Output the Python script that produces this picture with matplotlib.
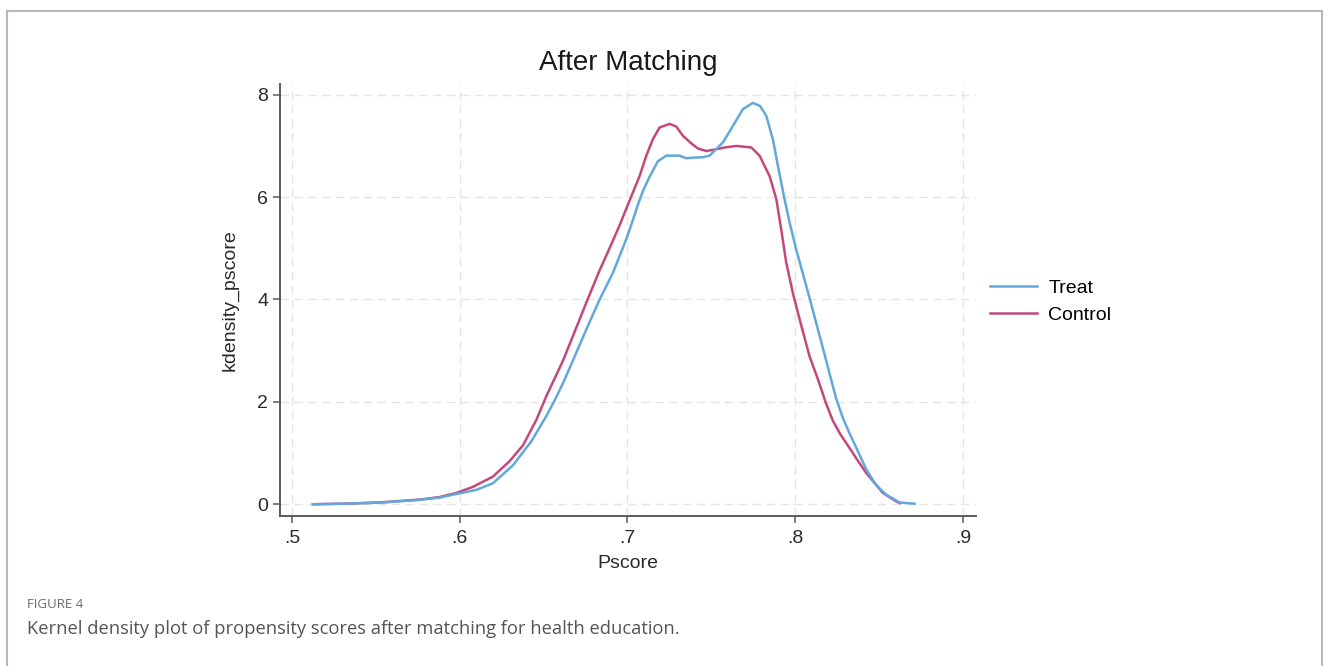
import matplotlib
matplotlib.use("Agg")
import matplotlib.pyplot as plt
from matplotlib.patches import Rectangle

# values
treat_x = [0.5125, 0.530, 0.5523, 0.5761, 0.588, 0.598, 0.6099, 0.6198, 0.6317, 0.6425,
           0.6516, 0.6566, 0.6615, 0.6655, 0.6754, 0.6834, 0.6913, 0.6993, 0.7032, 0.7062,
           0.7092, 0.7132, 0.7181, 0.7231, 0.7310, 0.7350, 0.7390, 0.7450, 0.7489, 0.7569,
           0.7628, 0.7688, 0.7747, 0.7790, 0.7827, 0.7867, 0.7900, 0.7936, 0.7970, 0.8006,
           0.8085, 0.8175, 0.8210, 0.8245, 0.8284, 0.8324, 0.8364, 0.8423, 0.8480, 0.8542,
           0.8622, 0.8711]
treat_y = [0.0, 0.01, 0.03, 0.085, 0.13, 0.20, 0.28, 0.41, 0.76, 1.22,
           1.72, 2.03, 2.36, 2.66, 3.41, 4.00, 4.52, 5.18, 5.55, 5.85,
           6.12, 6.40, 6.70, 6.81, 6.81, 6.76, 6.77, 6.78, 6.81, 7.07,
           7.39, 7.72, 7.84, 7.78, 7.59, 7.12, 6.55, 5.96, 5.45, 4.97,
           4.03, 2.92, 2.48, 2.05, 1.68, 1.38, 1.10, 0.68, 0.38, 0.186,
           0.035, 0.01]

control_x = [0.5125, 0.530, 0.5523, 0.5761, 0.588, 0.598, 0.6079, 0.6198, 0.6297, 0.6377,
             0.6457, 0.6516, 0.6615, 0.6695, 0.6762, 0.6834, 0.6893, 0.6953, 0.7002, 0.7072,
             0.7112, 0.7151, 0.7191, 0.7251, 0.7290, 0.7330, 0.7380, 0.7420, 0.7470, 0.7520,
             0.7580, 0.7648, 0.7738, 0.7787, 0.7847, 0.7887, 0.7917, 0.7946, 0.7986, 0.8026,
             0.8085, 0.8135, 0.8180, 0.8224, 0.8270, 0.8323, 0.8373, 0.8423, 0.8522, 0.8602,
             0.8625]
control_y = [0.0, 0.01, 0.035, 0.09, 0.14, 0.22, 0.34, 0.54, 0.84, 1.15,
             1.65, 2.11, 2.80, 3.45, 4.00, 4.57, 5.00, 5.45, 5.85, 6.41,
             6.81, 7.13, 7.36, 7.43, 7.38, 7.20, 7.05, 6.95, 6.90, 6.93,
             6.97, 7.00, 6.97, 6.81, 6.41, 5.96, 5.35, 4.72, 4.12, 3.61,
             2.89, 2.44, 2.00, 1.63, 1.36, 1.10, 0.85, 0.61, 0.22, 0.055,
             0.02]

x_ticks = [0.5, 0.6, 0.7, 0.8, 0.9]
x_tick_labels = [".5", ".6", ".7", ".8", ".9"]
y_ticks = [0, 2, 4, 6, 8]

plt.rcParams["font.family"] = ["Liberation Sans", "DejaVu Sans"]

fig = plt.figure(figsize=(13.3, 6.66), dpi=100)
fig.patches.append(Rectangle((7 / 1330, -0.05), 1315 / 1330, 1 - 11 / 666 + 0.05,
                             transform=fig.transFigure, fill=False,
                             edgecolor="#b8b8b8", linewidth=1.5))

ax = fig.add_axes([280 / 1330, 1 - 516 / 666, 696 / 1330, 432 / 666])
ax.plot(treat_x, treat_y, color="#62a8dc", lw=1.8, label="Treat", zorder=3)
ax.plot(control_x, control_y, color="#c4487c", lw=1.8, label="Control", zorder=2)

ax.set_xlim(0.4929, 0.9077)
ax.set_ylim(-0.23, 8.21)
ax.set_xticks(x_ticks)
ax.set_xticklabels(x_tick_labels)
ax.set_yticks(y_ticks)
ax.grid(True, color="#e4e4e4", linestyle=(0, (6, 4)), linewidth=1)
ax.set_axisbelow(True)
for side in ["top", "right"]:
    ax.spines[side].set_visible(False)
for side in ["left", "bottom"]:
    ax.spines[side].set_color("#5a5a5a")
    ax.spines[side].set_linewidth(1.4)
ax.tick_params(axis="both", length=5, width=1.1, color="#5a5a5a",
               labelsize=14, labelcolor="#2a2a2a")
ax.tick_params(axis="y", pad=3.5)
ax.tick_params(axis="x", pad=5)

fig.text(628 / 1330, 1 - 63 / 666, "After Matching", fontsize=20,
         ha="center", va="center", color="#1a1a1a")
fig.text(628 / 1330, 1 - 563 / 666, "Pscore", fontsize=14,
         ha="center", va="center", color="#2a2a2a")
fig.text(230 / 1330, 1 - 300 / 666, "kdensity_pscore", fontsize=14, rotation=90,
         ha="center", va="center", color="#2a2a2a")

fig.legend(loc="upper left", bbox_to_anchor=(990 / 1330, 1 - 279 / 666),
           frameon=False, fontsize=14, handlelength=2.4, handletextpad=0.6,
           labelspacing=0.5, borderpad=0, borderaxespad=0)

fig.text(27 / 1330, 1 - 604 / 666, "FIGURE 4", fontsize=9.5, family="Open Sans",
         ha="left", va="center", color="#6a6a6a")
fig.text(27 / 1330, 1 - 629 / 666,
         "Kernel density plot of propensity scores after matching for health education.",
         fontsize=13.2, family="Open Sans", ha="left", va="center", color="#555555")

fig.savefig("out.png", dpi=100)
